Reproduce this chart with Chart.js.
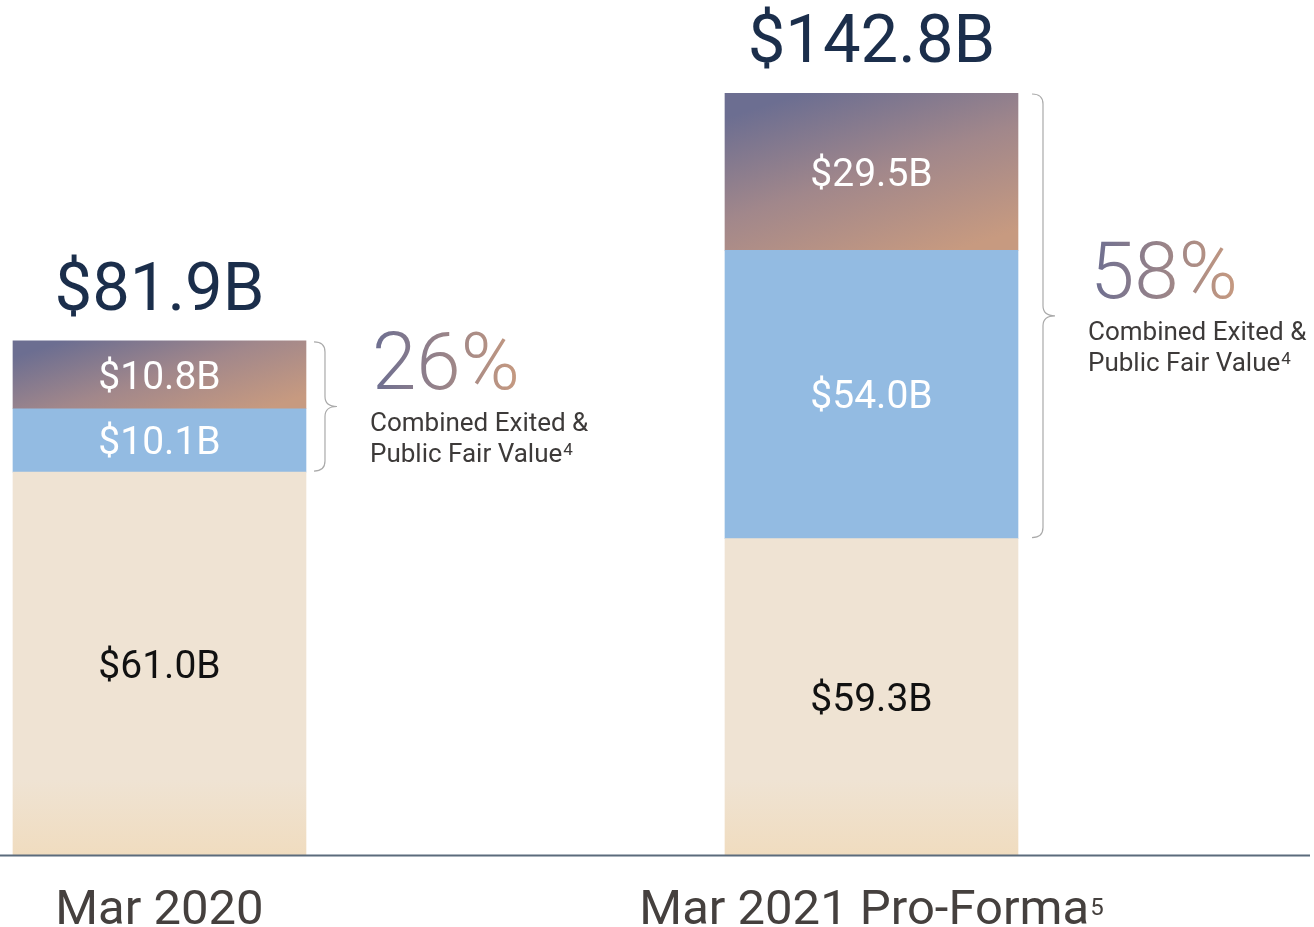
<!DOCTYPE html>
<html>
<head>
<meta charset="utf-8">
<title>Fair value composition</title>
<script src="https://cdn.jsdelivr.net/npm/chart.js@4.4.1/dist/chart.umd.min.js"></script>
<style>
  html, body { margin: 0; padding: 0; background: #ffffff; overflow: hidden; }
  canvas { display: block; }
</style>
</head>
<body>
<canvas id="chart" width="1314" height="927"></canvas>
<script>
// ---- data ---------------------------------------------------------------
const periods = ['Mar 2020', 'Mar 2021 Pro-Forma'];
const periodNotes = ['', '5'];
const privateValues = [61.0, 59.3];   // $B, bottom segment
const publicValues = [10.1, 54.0];    // $B, middle segment
const exitedValues = [10.8, 29.5];    // $B, top segment
const captionLines = ['Combined Exited &', 'Public Fair Value'];
const captionNote = '4';

// ---- look ---------------------------------------------------------------
const FONT = 'Roboto, "Liberation Sans", sans-serif';
const BAR_WIDTH = 293;
const BRACE_GAP = [8, 14];
const NAVY = '#1b2e4b';
const PURPLE = '#6c6e91';
const SALMON = '#c79a80';

const seriesDefs = [
  { name: 'Private fair value', values: privateValues, text: '#111111' },
  { name: 'Public fair value', values: publicValues, text: '#ffffff' },
  { name: 'Exited value', values: exitedValues, text: '#ffffff' }
];

const totals = periods.map((_, i) => privateValues[i] + publicValues[i] + exitedValues[i]);
const money = v => '$' + v.toFixed(1) + 'B';
const share = i => Math.round(100 * (publicValues[i] + exitedValues[i]) / totals[i]) + '%';

// top segment: diagonal purple -> salmon wash
function exitedFill(c) {
  const chart = c.chart;
  const i = c.dataset.period;
  const ys = chart.scales['y' + i];
  const xs = chart.scales.x;
  if (!chart.chartArea || !ys || !xs) return '#a1878b';
  const left = xs.getPixelForValue(i) - BAR_WIDTH / 2;
  const lower = privateValues[i] + publicValues[i];
  const top = ys.getPixelForValue(lower + exitedValues[i]);
  const h = ys.getPixelForValue(lower) - top;
  const a = 18 * Math.PI / 180;
  const s = Math.sin(a), co = Math.cos(a);
  const L = BAR_WIDTH * s + h * co;
  const g = chart.ctx.createLinearGradient(left, top, left + s * L, top + co * L);
  g.addColorStop(0, PURPLE);
  g.addColorStop(0.1, PURPLE);
  g.addColorStop(0.5, '#a1878b');
  g.addColorStop(0.92, SALMON);
  g.addColorStop(1, SALMON);
  return g;
}

// bottom segment: flat cream, warming slightly toward the baseline
function privateFill(c) {
  const chart = c.chart;
  const ys = chart.scales['y' + c.dataset.period];
  if (!chart.chartArea || !ys) return '#efe3d3';
  const base = ys.getPixelForValue(0);
  const g = chart.ctx.createLinearGradient(0, base - 75, 0, base);
  g.addColorStop(0, '#efe3d3');
  g.addColorStop(1, '#f0dcbf');
  return g;
}

const fills = [privateFill, '#93bbe2', exitedFill];

const datasets = [];
periods.forEach((p, i) => {
  seriesDefs.forEach((s, k) => {
    datasets.push({
      label: s.name + ' – ' + p,
      period: i,
      data: [{ x: i, y: s.values[i] }],
      yAxisID: 'y' + i,
      stack: 'bars',
      backgroundColor: fills[k],
      borderWidth: 0,
      barThickness: BAR_WIDTH
    });
  });
});

// one value axis per column so each column fills its own height
const axisMax = [121.4, 142.8];

function drawBrace(ctx, xa, top, bottom) {
  const xb = xa + 11, xc = xa + 23, r = 10;
  const mid = (top + bottom) / 2;
  ctx.beginPath();
  ctx.moveTo(xa, top);
  ctx.quadraticCurveTo(xb, top, xb, top + r);
  ctx.lineTo(xb, mid - r);
  ctx.quadraticCurveTo(xb, mid, xc, mid);
  ctx.quadraticCurveTo(xb, mid, xb, mid + r);
  ctx.lineTo(xb, bottom - r);
  ctx.quadraticCurveTo(xb, bottom, xa, bottom);
  ctx.strokeStyle = '#aaaaaa';
  ctx.lineWidth = 1.2;
  ctx.stroke();
  return { tip: xc, mid };
}

function textWithNote(ctx, text, note, x, y, mainFont, noteFont, raise, align) {
  ctx.font = mainFont;
  const w1 = ctx.measureText(text).width;
  ctx.font = noteFont;
  const w2 = note ? ctx.measureText(note).width + 1 : 0;
  const start = align === 'center' ? x - (w1 + w2) / 2 : x;
  ctx.textAlign = 'left';
  ctx.font = mainFont;
  ctx.fillText(text, start, y);
  if (note) {
    ctx.font = noteFont;
    ctx.fillText(note, start + w1 + 1, y - raise);
  }
}

const annotations = {
  id: 'annotations',
  afterDatasetsDraw(chart) {
    const ctx = chart.ctx;
    const xs = chart.scales.x;
    ctx.save();
    ctx.textBaseline = 'alphabetic';

    periods.forEach((p, i) => {
      const ys = chart.scales['y' + i];
      const cx = xs.getPixelForValue(i);
      const right = cx + BAR_WIDTH / 2;

      // values inside each segment
      let cum = 0;
      let creamTop = 0;
      seriesDefs.forEach((s, k) => {
        const v = s.values[i];
        const y0 = ys.getPixelForValue(cum);
        const y1 = ys.getPixelForValue(cum + v);
        if (k === 0) creamTop = y1;
        cum += v;
        ctx.font = '400 39px ' + FONT;
        ctx.fillStyle = s.text;
        ctx.textAlign = 'center';
        ctx.fillText(money(v), cx, (y0 + y1) / 2 + 14);
      });

      // column total above the bar
      const top = ys.getPixelForValue(totals[i]);
      ctx.font = '400 67px ' + FONT;
      ctx.fillStyle = NAVY;
      ctx.textAlign = 'center';
      ctx.fillText(money(totals[i]), cx, top - 31);

      // brace over the exited + public part
      const b = drawBrace(ctx, right + BRACE_GAP[i], top + 1, creamTop - 1);

      // share figure with gradient lettering
      const tx = b.tip + 35;
      ctx.font = '300 80px ' + FONT;
      const pct = share(i);
      const pw = ctx.measureText(pct).width;
      const g = ctx.createLinearGradient(tx, 0, tx + pw, 0);
      g.addColorStop(0, PURPLE);
      g.addColorStop(1, SALMON);
      ctx.fillStyle = g;
      ctx.textAlign = 'left';
      ctx.fillText(pct, tx, b.mid - 18);

      ctx.fillStyle = '#3d3a39';
      ctx.font = '400 26px ' + FONT;
      ctx.fillText(captionLines[0], tx - 2, b.mid + 24);
      textWithNote(ctx, captionLines[1], captionNote, tx - 2, b.mid + 55,
        '400 26px ' + FONT, '400 17px ' + FONT, 7, 'left');

      // category label under the baseline
      ctx.fillStyle = '#45403e';
      textWithNote(ctx, p, periodNotes[i], cx, 924,
        '400 49px ' + FONT, '400 24px ' + FONT, 9, 'center');
    });

    // baseline
    const base = chart.scales.y0.getPixelForValue(0);
    ctx.beginPath();
    ctx.moveTo(0, base + 0.5);
    ctx.lineTo(1310, base + 0.5);
    ctx.strokeStyle = '#5b6b7c';
    ctx.lineWidth = 2;
    ctx.stroke();
    ctx.restore();
  }
};

new Chart(document.getElementById('chart'), {
  type: 'bar',
  data: { datasets },
  options: {
    responsive: false,
    animation: false,
    events: [],
    layout: { padding: { top: 93, bottom: 72, left: 0, right: 0 } },
    plugins: { legend: { display: false }, tooltip: { enabled: false } },
    scales: {
      x: { type: 'linear', offset: false, min: -0.224, max: 1.6215, stacked: true, display: false },
      y0: { type: 'linear', min: 0, max: axisMax[0], stacked: true, display: false },
      y1: { type: 'linear', min: 0, max: axisMax[1], stacked: true, display: false }
    }
  },
  plugins: [annotations]
});
</script>
</body>
</html>
